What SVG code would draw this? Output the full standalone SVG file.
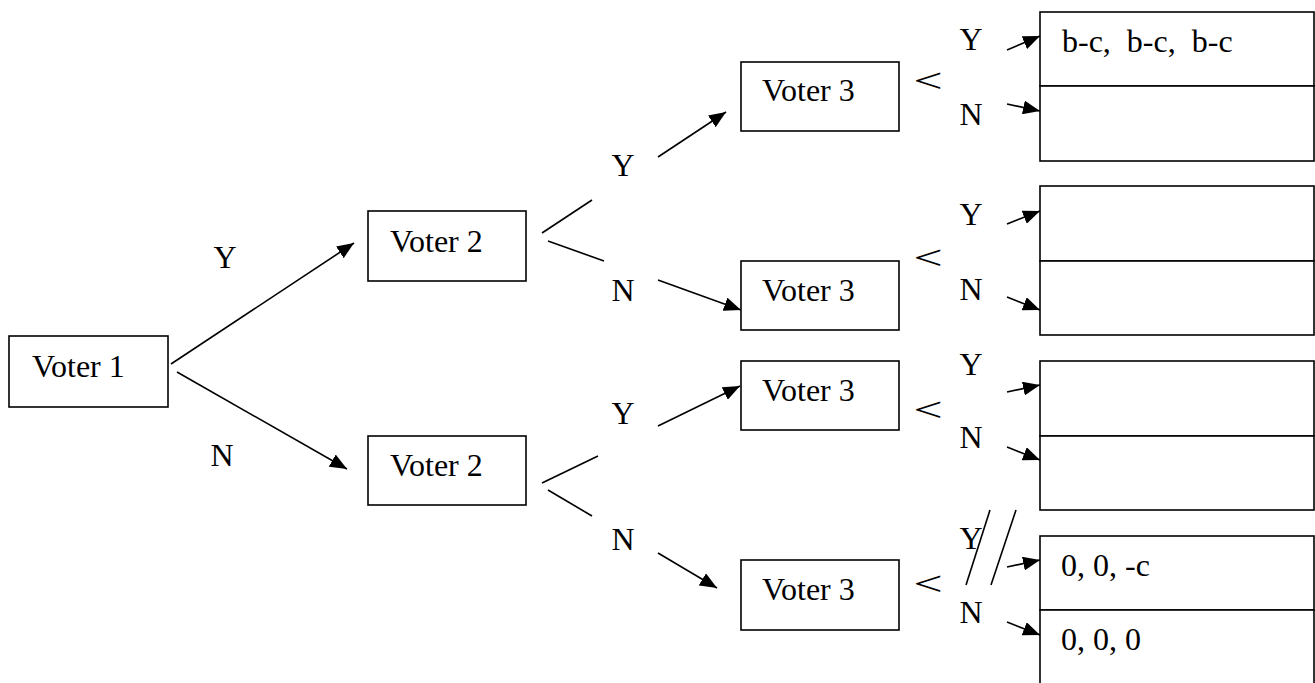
<svg xmlns="http://www.w3.org/2000/svg" width="1315" height="683" viewBox="0 0 1315 683">
<defs>
<style>
.box{fill:#fff;stroke:#000;stroke-width:1.6}
.t{font-family:"Liberation Serif","Times New Roman",serif;font-size:32px;fill:#000;white-space:pre}
.m{text-anchor:middle}
.ln{stroke:#000;stroke-width:1.6;fill:none}
.ar{stroke:#000;stroke-width:1.6;fill:none;marker-end:url(#ah)}
</style>
<marker id="ah" viewBox="0 0 17 14" refX="17" refY="7" markerWidth="17" markerHeight="14" markerUnits="userSpaceOnUse" orient="auto">
<path d="M0,0 L17,7 L0,14 z" fill="#000"/>
</marker>
</defs>
<rect width="1315" height="683" fill="#fff"/>

<g id="connectors">
<line class="ar" x1="171" y1="364" x2="354" y2="243"/>
<line class="ar" x1="177" y1="372" x2="347" y2="469"/>
<line class="ln" x1="542" y1="233" x2="592" y2="200"/>
<line class="ln" x1="548" y1="241" x2="604" y2="261"/>
<line class="ar" x1="658" y1="157" x2="726" y2="112"/>
<line class="ar" x1="658" y1="280" x2="741" y2="310"/>
<line class="ln" x1="542" y1="483" x2="598" y2="456"/>
<line class="ln" x1="548" y1="490" x2="592" y2="516"/>
<line class="ar" x1="658" y1="426" x2="740" y2="386"/>
<line class="ar" x1="658" y1="553" x2="717" y2="588"/>
<line class="ar" x1="1007" y1="50" x2="1040" y2="36"/>
<line class="ar" x1="1007" y1="104" x2="1040" y2="111"/>
<line class="ar" x1="1007" y1="224" x2="1040" y2="211"/>
<line class="ar" x1="1007" y1="297" x2="1040" y2="310"/>
<line class="ar" x1="1007" y1="392" x2="1040" y2="385"/>
<line class="ar" x1="1007" y1="447" x2="1040" y2="460"/>
<line class="ar" x1="1007" y1="567" x2="1040" y2="560"/>
<line class="ar" x1="1007" y1="622" x2="1040" y2="635"/>
<line class="ln" x1="990" y1="510" x2="966" y2="585"/>
<line class="ln" x1="1016" y1="510" x2="991" y2="585"/>
</g>

<g id="labels">
<text class="t m" x="225" y="268">Y</text>
<text class="t m" x="222" y="466">N</text>
<text class="t m" x="623" y="176">Y</text>
<text class="t m" x="623" y="301">N</text>
<text class="t m" x="623" y="424">Y</text>
<text class="t m" x="623" y="550">N</text>
<text class="t m" x="971" y="50">Y</text>
<text class="t m" x="971" y="125">N</text>
<text class="t m" x="971" y="225">Y</text>
<text class="t m" x="971" y="300">N</text>
<text class="t m" x="971" y="375">Y</text>
<text class="t m" x="971" y="448">N</text>
<text class="t m" x="971" y="549">Y</text>
<text class="t m" x="971" y="623">N</text>
<text class="t" transform="translate(913.5,92) scale(1.57,1)" style="font-size:33px">&lt;</text>
<text class="t" transform="translate(913.5,269) scale(1.57,1)" style="font-size:33px">&lt;</text>
<text class="t" transform="translate(913.5,421) scale(1.57,1)" style="font-size:33px">&lt;</text>
<text class="t" transform="translate(913.5,595) scale(1.57,1)" style="font-size:33px">&lt;</text>
</g>

<g id="voter1">
<rect class="box" x="9" y="336" width="159" height="71"/>
<text class="t" x="32" y="377">Voter 1</text>
</g>
<g id="voter2a">
<rect class="box" x="368" y="211" width="158" height="70"/>
<text class="t" x="390" y="252">Voter 2</text>
</g>
<g id="voter2b">
<rect class="box" x="368" y="436" width="158" height="69"/>
<text class="t" x="390" y="476">Voter 2</text>
</g>
<g id="voter3a">
<rect class="box" x="741" y="62" width="158" height="69"/>
<text class="t" x="762" y="101">Voter 3</text>
</g>
<g id="voter3b">
<rect class="box" x="741" y="261" width="158" height="69"/>
<text class="t" x="762" y="301">Voter 3</text>
</g>
<g id="voter3c">
<rect class="box" x="741" y="361" width="158" height="69"/>
<text class="t" x="762" y="401">Voter 3</text>
</g>
<g id="voter3d">
<rect class="box" x="741" y="560" width="158" height="70"/>
<text class="t" x="762" y="600">Voter 3</text>
</g>

<g id="payoff1">
<rect class="box" x="1040" y="12" width="274" height="74"/>
<rect class="box" x="1040" y="86" width="274" height="75"/>
<text class="t" x="1062" y="52">b-c,  b-c,  b-c</text>
</g>
<g id="payoff2">
<rect class="box" x="1040" y="186" width="274" height="75"/>
<rect class="box" x="1040" y="261" width="274" height="74"/>
</g>
<g id="payoff3">
<rect class="box" x="1040" y="361" width="274" height="75"/>
<rect class="box" x="1040" y="436" width="274" height="74"/>
</g>
<g id="payoff4">
<rect class="box" x="1040" y="536" width="274" height="74"/>
<rect class="box" x="1040" y="610" width="274" height="76"/>
<text class="t" x="1061" y="576">0, 0, -c</text>
<text class="t" x="1061" y="650">0, 0, 0</text>
</g>
</svg>
